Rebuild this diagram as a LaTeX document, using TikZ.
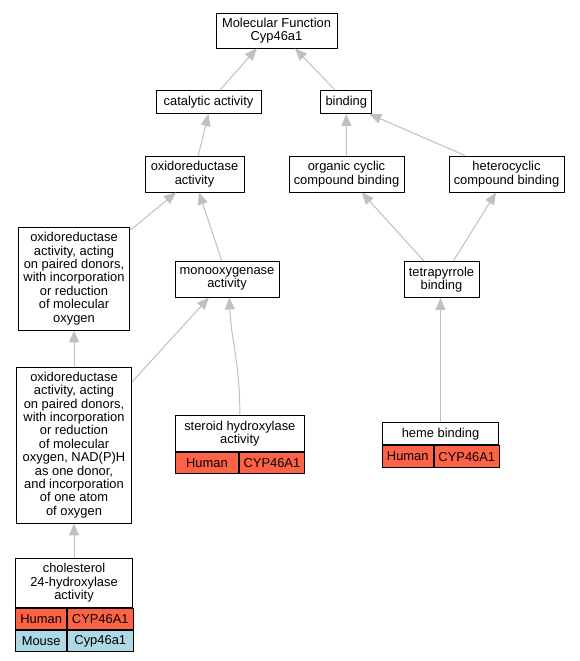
\documentclass[tikz,border=0pt]{standalone}
\usepackage{fontspec}
\setmainfont{Liberation Sans}
\usetikzlibrary{arrows.meta}
\definecolor{edgegray}{RGB}{192,192,192}
\definecolor{human}{RGB}{255,99,71}
\definecolor{mouse}{RGB}{173,216,230}
\newcommand{\myfont}{\fontsize{12.9pt}{13.4pt}\selectfont}
\begin{document}
\begin{tikzpicture}[x=1pt,y=-1pt,
  box/.style={draw, line width=0.95pt, inner sep=0pt, align=center, font=\myfont, fill=white},
  cell/.style={draw, line width=0.85pt, inner sep=0pt, font=\myfont, anchor=north west},
  edge/.style={draw=edgegray, line width=1pt, -{Triangle[length=12pt,width=10pt]}}]
\useasboundingbox[fill=white] (0,0) rectangle (580,661);

% nodes
\node[box, minimum width=121pt, minimum height=35pt] (mf) at (276.5,30.5) {Molecular Function\\Cyp46a1};
\node[box, minimum width=105pt, minimum height=23pt] (cat) at (208.5,102) {catalytic activity};
\node[box, minimum width=51pt, minimum height=23pt] (bind) at (346.3,102) {binding};
\node[box, minimum width=99pt, minimum height=36pt] (oxr) at (194.5,174) {oxidoreductase\\activity};
\node[box, minimum width=115pt, minimum height=36pt] (org) at (346.5,174) {organic cyclic\\compound binding};
\node[box, minimum width=115pt, minimum height=36pt] (het) at (506.5,174) {heterocyclic\\compound binding};
\node[box, minimum width=111pt, minimum height=103pt] (oxmo) at (74,278.5) {oxidoreductase\\activity, acting\\on paired donors,\\with incorporation\\or reduction\\of molecular\\oxygen};
\node[box, minimum width=104pt, minimum height=36pt] (mono) at (227,279) {monooxygenase\\activity};
\node[box, minimum width=75pt, minimum height=36pt] (tetra) at (441.5,279.5) {tetrapyrrole\\binding};
\node[box, minimum width=115pt, minimum height=156pt] (nadph) at (74,445) {oxidoreductase\\activity, acting\\on paired donors,\\with incorporation\\or reduction\\of molecular\\oxygen, NAD(P)H\\as one donor,\\and incorporation\\of one atom\\of oxygen};

% steroid hydroxylase
\node[box, minimum width=128.3pt, minimum height=36pt] (st) at (239.85,433.7) {steroid hydroxylase\\activity};
\node[cell, fill=human, minimum width=62.6pt, minimum height=21pt] (sth) at (st.south west) {Human};
\node[cell, fill=human, minimum width=65.7pt, minimum height=21pt] (stc) at (sth.north east) {CYP46A1};

% heme binding
\node[box, minimum width=116.4pt, minimum height=22pt] (heme) at (440.5,433.7) {heme binding};
\node[cell, fill=human, minimum width=51pt, minimum height=22pt] (hemeh) at (heme.south west) {Human};
\node[cell, fill=human, minimum width=65.4pt, minimum height=22pt] (hemec) at (hemeh.north east) {CYP46A1};

% cholesterol 24-hydroxylase
\node[box, minimum width=116.6pt, minimum height=48.6pt] (chol) at (74,583) {cholesterol\\24-hydroxylase\\activity};
\node[cell, fill=human, minimum width=51pt, minimum height=21.4pt] (cholh) at (chol.south west) {Human};
\node[cell, fill=human, minimum width=65.6pt, minimum height=21.4pt] (cholc) at (cholh.north east) {CYP46A1};
\node[cell, fill=mouse, minimum width=51pt, minimum height=21.3pt] (cholm) at (cholh.south west) {Mouse};
\node[cell, fill=mouse, minimum width=65.6pt, minimum height=21.3pt] (cholmc) at (cholm.north east) {Cyp46a1};

% edges
\draw[edge] ([xshift=11.5pt]cat.north) -- ([xshift=-19.8pt]mf.south);
\draw[edge] ([xshift=-11.3pt]bind.north) -- ([xshift=18.5pt]mf.south);
\draw[edge] ([xshift=3.8pt]oxr.north) -- (cat.south);
\draw[edge] (org.north) -- (bind.south);
\draw[edge] ([xshift=-41.5pt]het.north) -- ([xshift=23pt]bind.south);
\draw[edge] ([yshift=-4pt]oxmo.north east) -- ([xshift=-18.5pt]oxr.south);
\draw[edge] ([xshift=-5.3pt]mono.north) -- ([xshift=4.5pt]oxr.south);
\draw[edge] (nadph.north) -- (oxmo.south);
\draw[edge] ([yshift=-15.5pt]nadph.north east) -- ([xshift=-18pt]mono.south);
\draw[edge] (st.north) .. controls +(0,-55) and +(2,45) .. ([xshift=2.3pt]mono.south);
\draw[edge] ([xshift=-17.5pt]tetra.north) -- ([xshift=15.2pt]org.south);
\draw[edge] ([xshift=11.8pt]tetra.north) -- ([xshift=-10.5pt]het.south);
\draw[edge] (heme.north) -- (heme.north |- tetra.south);
\draw[edge] (chol.north) -- (chol.north |- nadph.south);
\end{tikzpicture}
\end{document}
